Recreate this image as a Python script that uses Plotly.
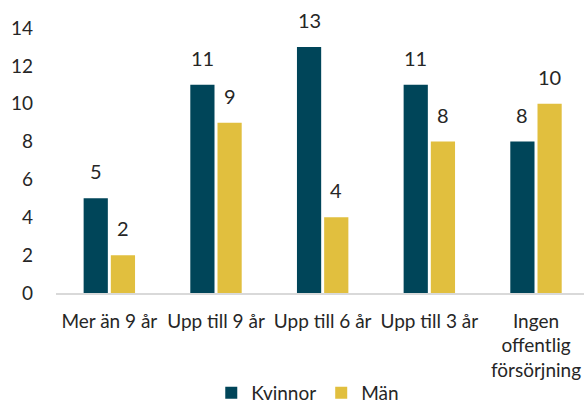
import plotly.graph_objects as go

categories = ["Mer än 9 år", "Upp till 9 år", "Upp till 6 år", "Upp till 3 år", "Ingen<br>offentlig<br>försörjning"]
kvinnor = [5, 11, 13, 11, 8]
man = [2, 9, 4, 8, 10]
y_ticks = [0, 2, 4, 6, 8, 10, 12, 14]

font_family = "Lato, Open Sans, sans-serif"
text_color = "#262626"
colors = {"Kvinnor": "#004559", "Män": "#e1bf3e"}

W, H = 584, 405
margin = dict(l=56, r=0, t=28, b=112)
x_range = [-0.5, 4.45]
bargap, bargroupgap = 0.49, 0.11

fig = go.Figure()
for name, vals in (("Kvinnor", kvinnor), ("Män", man)):
    fig.add_trace(go.Bar(x=categories, y=vals, name=name,
                         marker=dict(color=colors[name], line=dict(width=0))))

# data labels above bars (offset from the group centre by half a bar slot)
plot_w = W - margin["l"] - margin["r"]
px_per_cat = plot_w / (x_range[1] - x_range[0])
slot = px_per_cat * (1 - bargap) / 2
for k, vals in enumerate((kvinnor, man)):
    shift = (k - 0.5) * slot
    for c, v in zip(categories, vals):
        fig.add_annotation(x=c, y=v, xref="x", yref="y", text=str(v),
                           showarrow=False, yanchor="bottom", xanchor="center",
                           xshift=shift, yshift=13,
                           font=dict(size=20, color=text_color, family=font_family))

fig.update_layout(
    width=W, height=H,
    margin=margin,
    plot_bgcolor="white", paper_bgcolor="white",
    barmode="group", bargap=bargap, bargroupgap=bargroupgap,
    font=dict(family=font_family, size=19, color=text_color),
    showlegend=True,
    legend=dict(orientation="h", x=0.527, xanchor="center", xref="container",
                y=0.03, yanchor="middle", yref="container",
                font=dict(size=19), traceorder="normal"),
    xaxis=dict(range=x_range, showline=True, linecolor="#d9d9d9", linewidth=1.5,
               showgrid=False, ticks="", tickfont=dict(size=19), automargin=False,
               ticklabelstandoff=10),
    yaxis=dict(range=[0, 14], tickvals=y_ticks, showgrid=False, zeroline=False,
               showline=False, tickfont=dict(size=19), ticklabelstandoff=22,
               automargin=False),
)

fig.write_html("out.html", config={"displayModeBar": False},
               post_script="document.body.style.margin='0';document.body.style.overflow='hidden';")
